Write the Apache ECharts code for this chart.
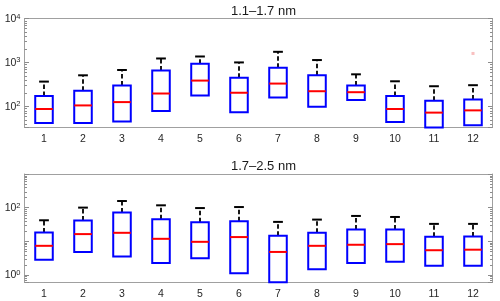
<!DOCTYPE html>
<html>
<head>
<meta charset="utf-8">
<script src="https://cdn.jsdelivr.net/npm/echarts@6/dist/echarts.min.js"></script>
<style>html,body{margin:0;padding:0;background:#fff;}#c{width:500px;height:301px;}</style>
</head>
<body>
<div id="c"></div>
<script>
const categories = ['1','2','3','4','5','6','7','8','9','10','11','12'];

// Panel 1: 1.1–1.7 nm
const p1Q1 = [42, 42, 45, 78, 177, 73, 160, 98, 139, 44, 30, 37];
const p1Median = [87, 105, 125, 196, 386, 204, 330, 221, 210, 87, 72, 81];
const p1Q3 = [171, 226, 298, 659, 935, 445, 759, 509, 298, 171, 134, 144];
const p1WhiskerHi = [366, 509, 673, 1230, 1365, 1000, 1745, 1133, 536, 372, 287, 303];
const p1Outliers = [[11, 1600]];

// Panel 2: 1.7–2.5 nm
const p2Q1 = [2.83, 4.8, 3.5, 2.26, 3.1, 1.12, 0.5, 1.47, 2.26, 2.47, 1.85, 1.88];
const p2Median = [7.3, 16.3, 17.8, 11.8, 9.6, 13.3, 4.8, 7.3, 7.85, 8.2, 5.4, 5.6];
const p2Q3 = [18.2, 41.3, 71, 45, 36.8, 39.4, 14.5, 17.8, 22.4, 22.4, 13.5, 13.9];
const p2WhiskerHi = [42, 100, 157, 117, 97, 104, 37.6, 44, 56.5, 52.7, 32.8, 32.8];

const titles = ['1.1\u20131.7 nm', '1.7\u20132.5 nm'];
const p1Range = [33, 10000];
const p2Range = [0.6, 1000];
const p1LabelExps = [2, 3, 4];
const p2LabelExps = [0, 2];
const p1MinorTicks = [40,50,60,70,80,90,200,300,400,500,600,700,800,900,2000,3000,4000,5000,6000,7000,8000,9000];
const p2MinorTicks = [0.7,0.8,0.9,2,3,4,5,6,7,8,9,20,30,40,50,60,70,80,90,200,300,400,500,600,700,800,900];

const FONT = 'Liberation Sans, Arial, Helvetica, sans-serif';
const AXIS_COLOR = '#a0a0a0';
const TICK_COLOR = '#8c8c8c';
const LABEL_COLOR = '#262626';

function boxData(q1, med, q3, hi) {
  return categories.map((c, i) => [i, q1[i], med[i], q3[i], hi[i]]);
}

function renderBox(params, api) {
  const x = api.value(0);
  const q1 = api.value(1), med = api.value(2), q3 = api.value(3), hi = api.value(4);
  const band = api.size([1, 0], [x, med])[0];
  const hw = band * 0.225, cw = band * 0.125;
  const pQ1 = api.coord([x, q1]);
  const pMed = api.coord([x, med]);
  const pQ3 = api.coord([x, q3]);
  const pHi = api.coord([x, hi]);
  const cs = params.coordSys;
  const clipR = {x: cs.x, y: cs.y, width: cs.width, height: cs.height};
  const rect = echarts.graphic.clipRectByRect(
    {x: pQ1[0] - hw, y: pQ3[1], width: 2 * hw, height: pQ1[1] - pQ3[1]}, clipR);
  const children = [
    {type: 'line', shape: {x1: pQ3[0], y1: pQ3[1], x2: pHi[0], y2: pHi[1]},
     style: {stroke: '#000', lineWidth: 1.8, lineDash: [4.5, 2.5]}},
    {type: 'line', shape: {x1: pHi[0] - cw, y1: pHi[1], x2: pHi[0] + cw, y2: pHi[1]},
     style: {stroke: '#000', lineWidth: 2}},
  ];
  if (rect) {
    children.push({type: 'rect', shape: rect, style: {fill: null, stroke: '#0000ff', lineWidth: 2}});
  }
  children.push({type: 'line', shape: {x1: pMed[0] - hw, y1: pMed[1], x2: pMed[0] + hw, y2: pMed[1]},
     style: {stroke: '#ff0000', lineWidth: 2}});
  return {type: 'group', children: children};
}

function renderMinor(params, api) {
  const y = Math.round(api.coord([0, api.value(1)])[1]) + 0.5;
  const cs = params.coordSys;
  if (y < cs.y - 0.5 || y > cs.y + cs.height + 0.5) return null;
  return {type: 'group', children: [
    {type: 'line', shape: {x1: cs.x, y1: y, x2: cs.x + 2.5, y2: y}, style: {stroke: TICK_COLOR, lineWidth: 1}},
    {type: 'line', shape: {x1: cs.x + cs.width - 2.5, y1: y, x2: cs.x + cs.width, y2: y}, style: {stroke: TICK_COLOR, lineWidth: 1}}
  ]};
}

function makeFormatter(exps) {
  return function (v) {
    const e = Math.log10(v);
    const r = Math.round(e);
    if (Math.abs(e - r) > 1e-6) return '';
    if (exps.indexOf(r) < 0) return '';
    return '{b|10}{s|' + r + '}';
  };
}

const labelRich = {
  b: {fontSize: 10.5, fontFamily: FONT, color: LABEL_COLOR, verticalAlign: 'bottom', lineHeight: 12},
  s: {fontSize: 7.5, fontFamily: FONT, color: LABEL_COLOR, verticalAlign: 'top', padding: [0, 0, 7, 0], lineHeight: 12}
};

function xAxisBottom(gi) {
  return {type: 'category', gridIndex: gi, data: categories, position: 'bottom', boundaryGap: true,
    axisLine: {lineStyle: {color: AXIS_COLOR, width: 1}},
    axisTick: {inside: true, alignWithLabel: true, length: 4, lineStyle: {color: TICK_COLOR}},
    axisLabel: {fontSize: 10.5, fontFamily: FONT, color: LABEL_COLOR, margin: 6},
    splitLine: {show: false}};
}
function xAxisTop(gi) {
  return {type: 'category', gridIndex: gi, data: categories, position: 'top', boundaryGap: true,
    axisLine: {lineStyle: {color: AXIS_COLOR, width: 1}},
    axisTick: {inside: true, alignWithLabel: true, length: 4, lineStyle: {color: TICK_COLOR}},
    axisLabel: {show: false}, splitLine: {show: false}};
}
function yAxisLeft(gi, range, exps) {
  return {type: 'log', logBase: 10, gridIndex: gi, min: range[0], max: range[1], position: 'left',
    axisLine: {show: true, lineStyle: {color: AXIS_COLOR, width: 1}},
    axisTick: {show: true, inside: true, length: 4.5, lineStyle: {color: TICK_COLOR}},
    axisLabel: {formatter: makeFormatter(exps), rich: labelRich, margin: 4},
    splitLine: {show: false}};
}
function yAxisRight(gi, range) {
  return {type: 'log', logBase: 10, gridIndex: gi, min: range[0], max: range[1], position: 'right',
    axisLine: {show: true, lineStyle: {color: AXIS_COLOR, width: 1}},
    axisTick: {show: true, inside: true, length: 4.5, lineStyle: {color: TICK_COLOR}},
    axisLabel: {show: false}, splitLine: {show: false}};
}

const chart = echarts.init(document.getElementById('c'), null, {renderer: 'canvas'});
chart.setOption({
  animation: false,
  backgroundColor: '#ffffff',
  title: [
    {text: titles[0], left: 258.5, top: 0, textAlign: 'center',
     textStyle: {fontSize: 13, fontWeight: 'normal', fontFamily: FONT, color: '#1a1a1a'}},
    {text: titles[1], left: 258.5, top: 154.5, textAlign: 'center',
     textStyle: {fontSize: 13, fontWeight: 'normal', fontFamily: FONT, color: '#1a1a1a'}}
  ],
  grid: [
    {left: 24.5, right: 7.5, top: 18.5, height: 109},
    {left: 24.5, right: 7.5, top: 174, height: 108.3}
  ],
  xAxis: [xAxisBottom(0), xAxisTop(0), xAxisBottom(1), xAxisTop(1)],
  yAxis: [yAxisLeft(0, p1Range, p1LabelExps), yAxisRight(0, p1Range),
          yAxisLeft(1, p2Range, p2LabelExps), yAxisRight(1, p2Range)],
  series: [
    {type: 'custom', xAxisIndex: 0, yAxisIndex: 0, renderItem: renderMinor, silent: true,
     data: p1MinorTicks.map(v => [0, v]), encode: {x: 0, y: 1}},
    {type: 'custom', xAxisIndex: 2, yAxisIndex: 2, renderItem: renderMinor, silent: true,
     data: p2MinorTicks.map(v => [0, v]), encode: {x: 0, y: 1}},
    {type: 'custom', name: titles[0], xAxisIndex: 0, yAxisIndex: 0, renderItem: renderBox,
     data: boxData(p1Q1, p1Median, p1Q3, p1WhiskerHi), encode: {x: 0, y: [1, 2, 3, 4]}},
    {type: 'custom', name: titles[1], xAxisIndex: 2, yAxisIndex: 2, renderItem: renderBox,
     data: boxData(p2Q1, p2Median, p2Q3, p2WhiskerHi), encode: {x: 0, y: [1, 2, 3, 4]}},
    {type: 'scatter', xAxisIndex: 0, yAxisIndex: 0, data: p1Outliers, symbol: 'rect', symbolSize: 3,
     itemStyle: {color: '#f7b0b0'}, silent: true}
  ]
});
</script>
</body>
</html>
